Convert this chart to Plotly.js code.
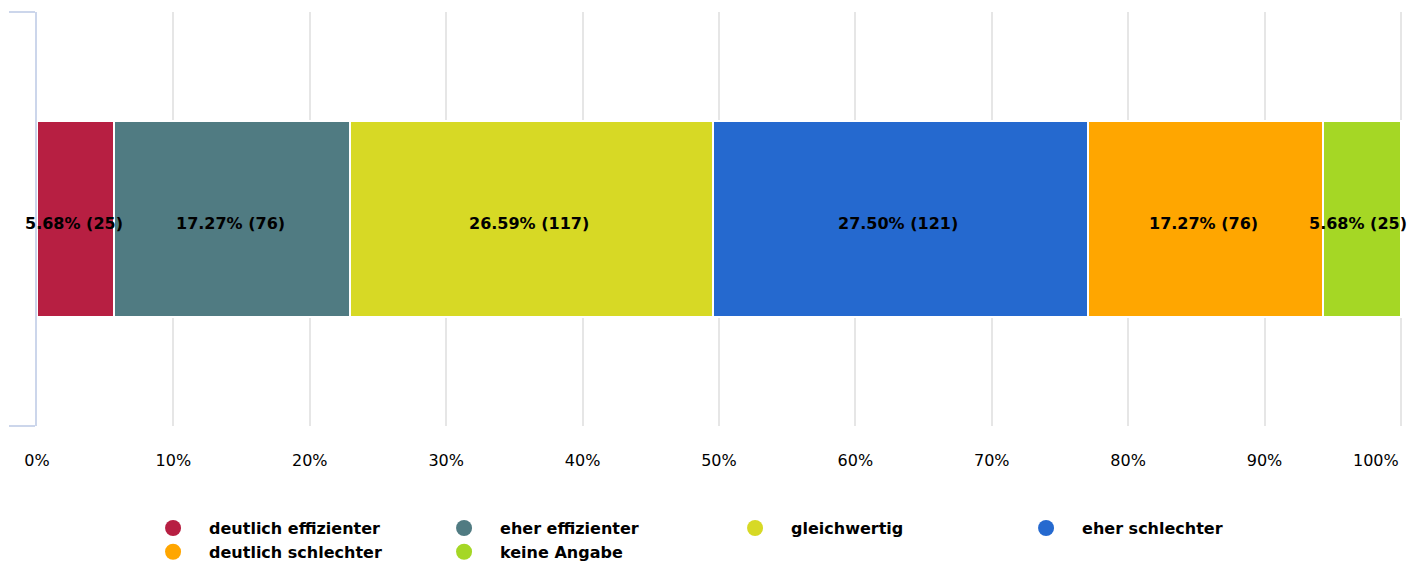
<!DOCTYPE html>
<html>
<head>
<meta charset="utf-8">
<script src="https://cdn.plot.ly/plotly-3.0.1.min.js"></script>
<style>html,body{margin:0;padding:0;background:#fff;}#chart{width:1409px;height:561px;}</style>
</head>
<body>
<div id="chart"></div>
<script>
const categories = ["deutlich effizienter", "eher effizienter", "gleichwertig", "eher schlechter", "deutlich schlechter", "keine Angabe"];
const percents = [5.68, 17.27, 26.59, 27.50, 17.27, 5.68];
const counts = [25, 76, 117, 121, 76, 25];
const colors = ["#b71f42", "#507b82", "#d7d925", "#2569cf", "#ffa600", "#a5d725"];
const xTickVals = [0, 10, 20, 30, 40, 50, 60, 70, 80, 90, 100];
const xTickText = ["0%", "10%", "20%", "30%", "40%", "50%", "60%", "70%", "80%", "90%", "100%"];

const font = "DejaVu Sans, sans-serif";
const traces = [];
const annotations = [];
let cum = 0;
categories.forEach((c, i) => {
  traces.push({
    type: "bar", orientation: "h", name: c,
    x: [percents[i]], y: [0], width: 0.473,
    marker: {color: colors[i], line: {color: "#ffffff", width: 2}},
    showlegend: false, hoverinfo: "skip"
  });
  annotations.push({
    x: cum + percents[i] / 2, y: 0, xref: "x", yref: "y",
    text: "<b>" + percents[i].toFixed(2) + "% (" + counts[i] + ")</b>",
    showarrow: false, xanchor: "center", yanchor: "middle",
    xshift: i === categories.length - 1 ? -4 : -2, yshift: -4,
    font: {family: font, size: 16, color: "#000000"}
  });
  cum += percents[i];
});
categories.forEach((c, i) => {
  traces.push({
    type: "scatter", mode: "markers", name: c, x: [null], y: [null],
    marker: {color: colors[i], size: 16, symbol: "circle"},
    showlegend: true, hoverinfo: "skip"
  });
});
// last tick label aligned to the right edge like the reference
const lastIdx = xTickVals.length - 1;
annotations.push({
  x: xTickVals[lastIdx], xref: "x", y: 0, yref: "paper", yshift: -34,
  text: xTickText[lastIdx], showarrow: false, xanchor: "right", yanchor: "middle",
  font: {family: font, size: 16, color: "#000000"}
});
const shownTickText = xTickText.map((t, i) => i === lastIdx ? "" : t);

const layout = {
  width: 1409, height: 561,
  margin: {l: 37, r: 7, t: 12, b: 135},
  paper_bgcolor: "#ffffff", plot_bgcolor: "#ffffff",
  barmode: "stack",
  font: {family: font, size: 16, color: "#000000"},
  xaxis: {
    range: [0, 100.08], tickvals: xTickVals, ticktext: shownTickText,
    showgrid: true, gridcolor: "#e6e6e6", gridwidth: 2,
    zeroline: false, showline: false,
    ticks: "outside", ticklen: 20, tickcolor: "rgba(0,0,0,0)",
    tickfont: {family: font, size: 16, color: "#000000"}, fixedrange: true
  },
  yaxis: {
    range: [-0.5, 0.5], tickvals: [-0.5, 0.5], ticktext: ["", ""],
    showgrid: false, zeroline: false,
    showline: true, linecolor: "#ccd6eb", linewidth: 2,
    ticks: "outside", ticklen: 26, tickcolor: "#ccd6eb", tickwidth: 2,
    showticklabels: false, fixedrange: true
  },
  annotations: annotations,
  showlegend: true,
  legend: {
    orientation: "h", x: 0.0733, xanchor: "left",
    yref: "container", y: 0.089, yanchor: "top",
    traceorder: "normal",
    entrywidth: 214, entrywidthmode: "pixels", itemwidth: 62, tracegroupgap: 0,
    font: {family: font, size: 16, color: "#000000", weight: "bold"}
  }
};
Plotly.newPlot("chart", traces, layout, {displayModeBar: false, staticPlot: true});
</script>
</body>
</html>
